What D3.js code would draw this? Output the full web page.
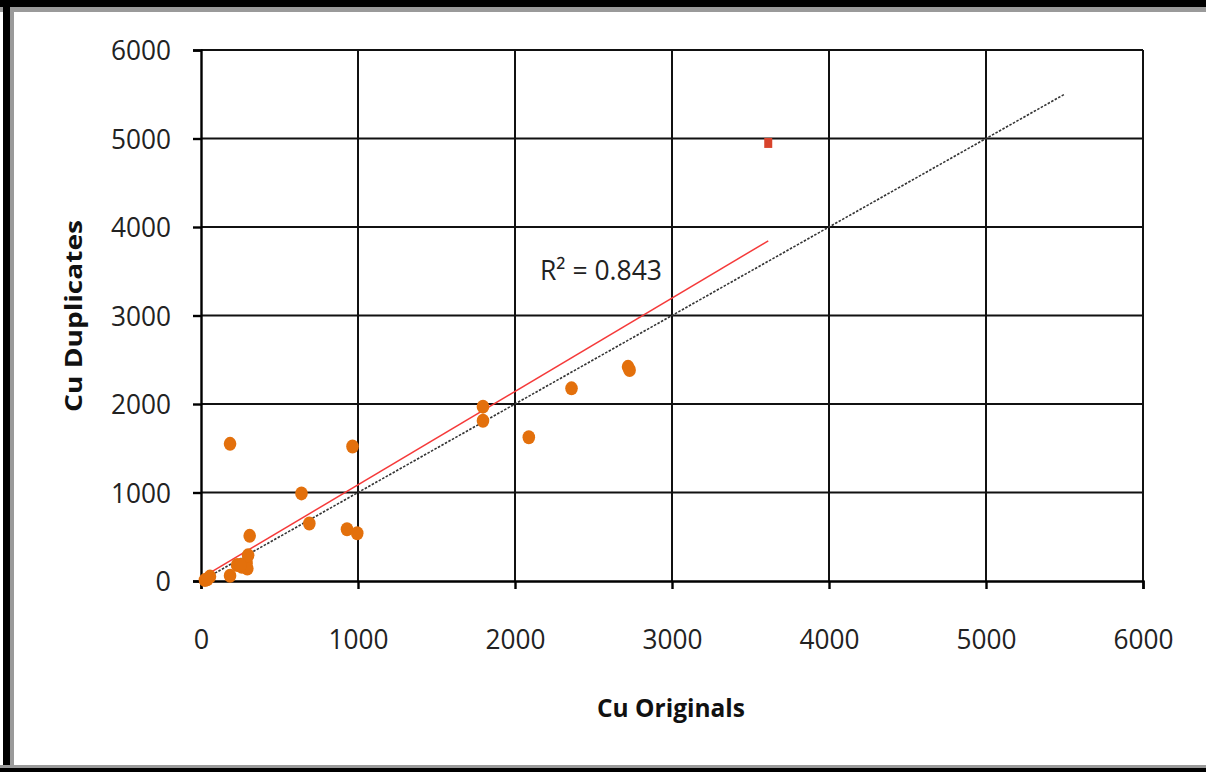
<!DOCTYPE html>
<html>
<head>
<meta charset="utf-8">
<script src="https://cdn.jsdelivr.net/npm/d3@7"></script>
<style>
  html, body { margin: 0; padding: 0; background: #fff; }
  svg { display: block; }
</style>
</head>
<body>
<svg id="chart" width="1206" height="772"></svg>
<script>
// Cu assay check: original vs duplicate results
const cuOriginals  = [25, 57, 40, 185, 230, 260, 290, 295, 300, 250, 310, 640, 690, 930, 965, 995, 185, 1796, 1796, 2088, 2360, 2720, 2730];
const cuDuplicates = [10, 50, 20, 60, 180, 160, 200, 140, 290, 180, 510, 990, 650, 585, 1520, 540, 1550, 1970, 1811, 1624, 2177, 2420, 2385];
// single high sample shown in red
const highOriginal = [3613];
const highDuplicate = [4950];

const axisTicks = [0, 1000, 2000, 3000, 4000, 5000, 6000];
const trendSlope = 1.055;
const trendIntercept = 32;
const trendRange = [0, 3613];
const parityRange = [0, 5500];
const rSquaredLabel = "R² = 0.843";

const svg = d3.select("#chart");
const W = 1206, H = 772;
const m = { left: 201, right: 1143, top: 50, bottom: 581 };

// page frame
svg.append("rect").attr("x", 0).attr("y", 0).attr("width", W).attr("height", H).attr("fill", "#fff");
svg.append("rect").attr("x", 0).attr("y", 0).attr("width", W).attr("height", 7).attr("fill", "#000");
svg.append("rect").attr("x", 0).attr("y", 7).attr("width", W).attr("height", 5).attr("fill", "#9a9a9a");
svg.append("rect").attr("x", 3).attr("y", 0).attr("width", 7).attr("height", H).attr("fill", "#000");
svg.append("rect").attr("x", 10).attr("y", 7).attr("width", 4).attr("height", H - 7).attr("fill", "#9a9a9a");
svg.append("rect").attr("x", 0).attr("y", 765).attr("width", W).attr("height", 3).attr("fill", "#9a9a9a");
svg.append("rect").attr("x", 0).attr("y", 768).attr("width", W).attr("height", 4).attr("fill", "#000");
svg.append("rect").attr("x", 14).attr("y", 12).attr("width", W - 14).attr("height", 753).attr("fill", "#fff");

const x = d3.scaleLinear().domain([0, 6000]).range([m.left, m.right]);
const y = d3.scaleLinear().domain([0, 6000]).range([m.bottom, m.top]);

const font = "'Open Sans', 'Liberation Sans', sans-serif";

// gridlines
const grid = svg.append("g").attr("stroke", "#111").attr("stroke-width", 2);
grid.selectAll(".gx").data(axisTicks.slice(1)).join("line")
  .attr("x1", d => x(d)).attr("x2", d => x(d))
  .attr("y1", m.top).attr("y2", m.bottom);
grid.selectAll(".gy").data(axisTicks.slice(1)).join("line")
  .attr("x1", m.left).attr("x2", m.right)
  .attr("y1", d => y(d)).attr("y2", d => y(d));

// axes
const xAxis = d3.axisBottom(x).tickValues(axisTicks).tickSize(8).tickPadding(41).tickFormat(d3.format("d"));
const yAxis = d3.axisLeft(y).tickValues(axisTicks).tickSize(8).tickPadding(22).tickFormat(d3.format("d"));

const gx = svg.append("g").attr("transform", `translate(0,${m.bottom})`).call(xAxis);
const gy = svg.append("g").attr("transform", `translate(${m.left},0)`).call(yAxis);
[gx, gy].forEach(g => {
  g.select(".domain").attr("stroke", "#000").attr("stroke-width", 2.4);
  g.selectAll(".tick line").attr("stroke", "#000").attr("stroke-width", 2.4);
  g.selectAll(".tick text").attr("fill", "#222").style("font-family", font).style("font-size", "27px")
    .attr("textLength", 60).attr("lengthAdjust", "spacingAndGlyphs");
});
gx.selectAll(".tick text").filter(d => d === 0).attr("textLength", null);
gy.selectAll(".tick text").filter(d => d === 0).attr("textLength", null);
gy.selectAll(".tick text").attr("dy", "0.36em");

// 1:1 parity line
svg.append("line")
  .attr("x1", x(parityRange[0])).attr("y1", y(parityRange[0]))
  .attr("x2", x(parityRange[1])).attr("y2", y(parityRange[1]))
  .attr("stroke", "#333").attr("stroke-width", 1.6).attr("stroke-dasharray", "2.5,1.5");

// linear trendline
svg.append("line")
  .attr("x1", x(trendRange[0])).attr("y1", y(trendSlope * trendRange[0] + trendIntercept))
  .attr("x2", x(trendRange[1])).attr("y2", y(trendSlope * trendRange[1] + trendIntercept))
  .attr("stroke", "#f53a3a").attr("stroke-width", 1.5);

// samples
svg.append("g").selectAll("ellipse").data(d3.zip(cuOriginals, cuDuplicates)).join("ellipse")
  .attr("cx", d => x(d[0])).attr("cy", d => y(d[1]))
  .attr("rx", 6.3).attr("ry", 7)
  .attr("fill", "#e3700c");

svg.append("g").selectAll("rect").data(d3.zip(highOriginal, highDuplicate)).join("rect")
  .attr("x", d => x(d[0]) - 4).attr("y", d => y(d[1]) - 5)
  .attr("width", 8).attr("height", 10)
  .attr("fill", "#d8432c");

// R² annotation
svg.append("text")
  .attr("x", 540).attr("y", 280)
  .attr("fill", "#222")
  .attr("textLength", 122).attr("lengthAdjust", "spacingAndGlyphs")
  .style("font-family", font).style("font-size", "27px")
  .text(rSquaredLabel);

// axis titles
svg.append("text")
  .attr("x", 671).attr("y", 717)
  .attr("text-anchor", "middle")
  .attr("fill", "#111")
  .attr("textLength", 148).attr("lengthAdjust", "spacingAndGlyphs")
  .style("font-family", font).style("font-size", "25px").style("font-weight", "bold")
  .text("Cu Originals");

svg.append("text")
  .attr("transform", "translate(82,316) rotate(-90)")
  .attr("text-anchor", "middle")
  .attr("fill", "#111")
  .attr("textLength", 192).attr("lengthAdjust", "spacingAndGlyphs")
  .style("font-family", font).style("font-size", "24px").style("font-weight", "bold")
  .text("Cu Duplicates");
</script>
</body>
</html>
